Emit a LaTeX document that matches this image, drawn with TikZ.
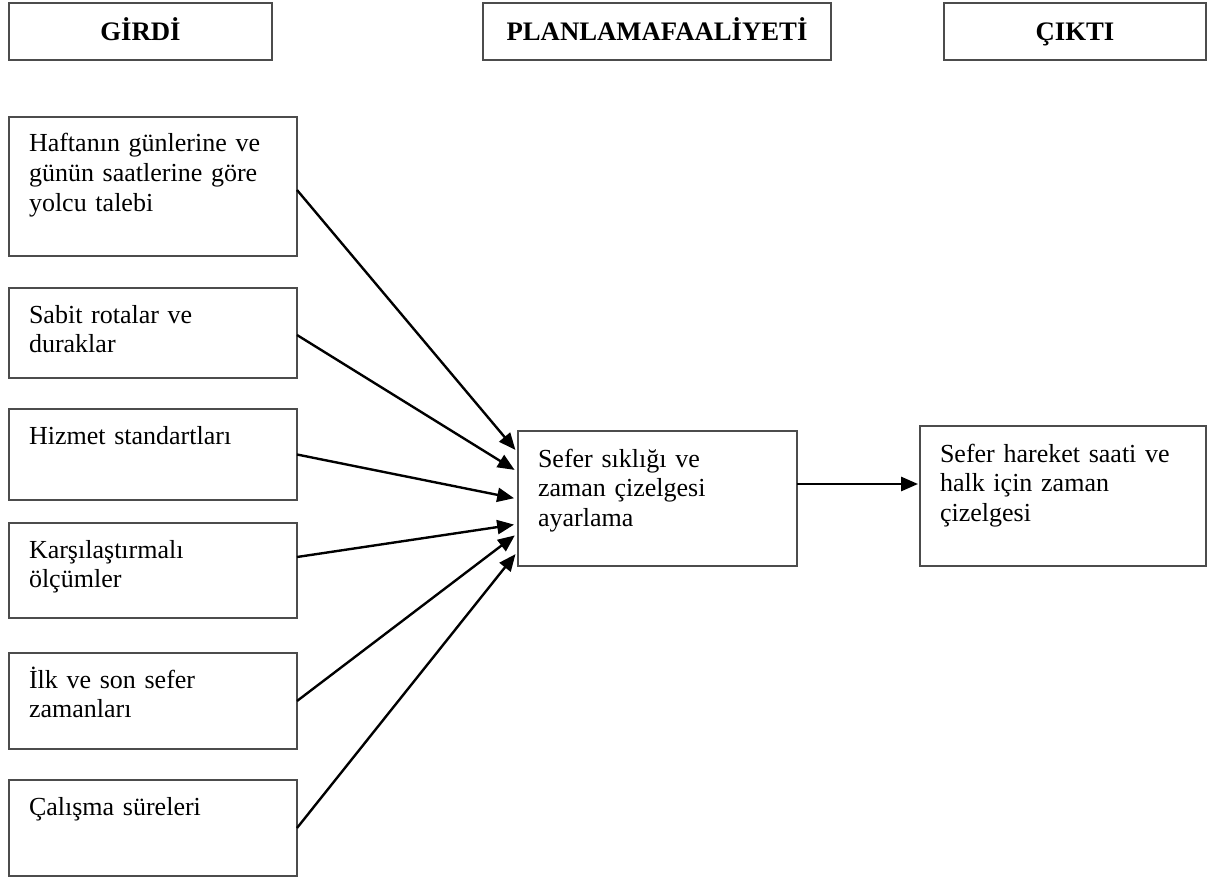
\documentclass[tikz,border=0pt]{standalone}
\usepackage{fontspec}
\setmainfont{Liberation Serif}
\usetikzlibrary{arrows.meta}
\newdimen\pxu
\pxu=0.025cm

\tikzset{
  head/.style={draw=black!70, line width=1.3pt, inner sep=0pt, outer sep=0pt,
    text height=13.5pt, text depth=0pt,
    font=\bfseries\fontsize{19pt}{21.3pt}\selectfont},
  inbox/.style={draw=black!70, line width=1.3pt, anchor=north west, align=left,
    inner xsep=20\pxu, inner ysep=0pt, outer sep=0pt, text height=35\pxu,
    font=\fontsize{18.5pt}{21.3pt}\selectfont},
  feed/.style={-{Triangle[length=12pt,width=10pt]}, line width=1.7pt, shorten >=4\pxu},
}

\begin{document}
\begin{tikzpicture}[x=1\pxu, y=-1\pxu]
    \useasboundingbox (0,0) rectangle (1208,879);

    % Column headers
    \node[head, minimum width=263\pxu, minimum height=57\pxu] (girdi) at (140.5,31.5) {GİRDİ};
    \node[head, minimum width=348\pxu, minimum height=57\pxu] (faaliyet) at (657,31.5) {PLANLAMAFAALİYETİ};
    \node[head, minimum width=262\pxu, minimum height=57\pxu] (cikti) at (1075,31.5) {ÇIKTI};

    % Inputs
    \node[inbox, text width=248\pxu, text depth=104\pxu] (demand) at (9,117) {Haftanın günlerine ve\\günün saatlerine göre\\yolcu talebi};
    \node[inbox, text width=248\pxu, text depth=55\pxu] (routes) at (9,288) {Sabit rotalar ve\\duraklar};
    \node[inbox, text width=248\pxu, text depth=56\pxu] (standards) at (9,409) {Hizmet standartları};
    \node[inbox, text width=248\pxu, text depth=60\pxu] (benchmark) at (9,523) {Karşılaştırmalı\\ölçümler};
    \node[inbox, text width=248\pxu, text depth=61\pxu] (firstlast) at (9,653) {İlk ve son sefer\\zamanları};
    \node[inbox, text width=248\pxu, text depth=61\pxu] (worktime) at (9,780) {Çalışma süreleri};

    % Planning activity and output
    \node[inbox, text width=239\pxu, text height=36\pxu, text depth=99\pxu] (adjust) at (518,431) {Sefer sıklığı ve\\zaman çizelgesi\\ayarlama};
    \node[inbox, text width=246\pxu, text height=36\pxu, text depth=104\pxu] (timetable) at (920,426) {Sefer hareket saati ve\\halk için zaman\\çizelgesi};

    % Inputs feeding the planning activity
    \draw[feed] ([yshift=-3.5\pxu]demand.east) -- ([yshift=-22\pxu]adjust.north west);
    \draw[feed] ([yshift=-2\pxu]routes.east) -- ([yshift=-41\pxu]adjust.north west);
    \draw[feed] (standards.east) -- ([yshift=-68\pxu]adjust.north west);
    \draw[feed] ([yshift=13.5\pxu]benchmark.east) -- ([yshift=-93\pxu]adjust.north west);
    \draw[feed] (firstlast.east) -- ([yshift=-102\pxu]adjust.north west);
    \draw[feed] (worktime.east) -- ([yshift=-120\pxu]adjust.north west);

    % Planning activity to output
    \draw[feed, shorten >=2\pxu] ([yshift=14.5\pxu]adjust.east) -- ([yshift=12\pxu]timetable.west);

\end{tikzpicture}
\end{document}
